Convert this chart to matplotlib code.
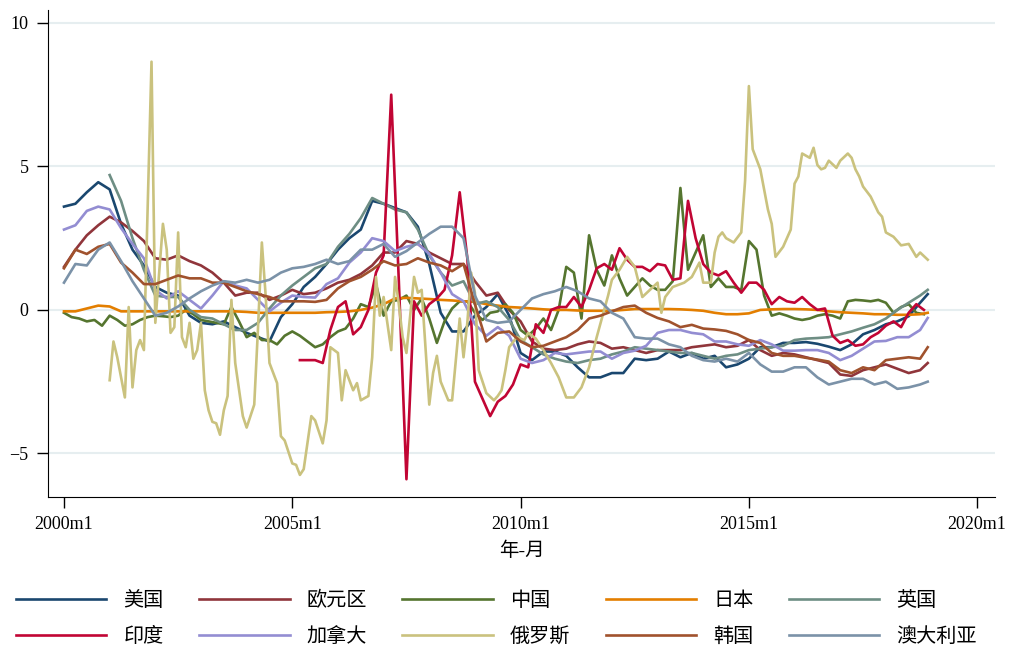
import numpy as np
import matplotlib
matplotlib.use("Agg")
import matplotlib.pyplot as plt

plt.rcParams['font.family'] = ['Liberation Serif', 'Noto Sans CJK SC']
plt.rcParams['axes.unicode_minus'] = True

# months counted from 2000m1 (=0)
names = ['美国', '欧元区', '中国', '日本', '英国', '印度', '加拿大', '俄罗斯', '韩国', '澳大利亚']
colors = ['#1a476f', '#90353b', '#55752f', '#e37e00', '#6e8e84',
          '#c10534', '#938dd2', '#cac27e', '#a0522d', '#7b92a8']

tick_pos = [0, 60, 120, 180, 240]
tick_lab = ['2000m1', '2005m1', '2010m1', '2015m1', '2020m1']

# quarterly readings 2000m1..2018m10 plus 2018m12
q_months = np.r_[np.arange(0, 226, 3), 227]
q_months_uk = np.r_[np.arange(12, 226, 3), 227]
# bi-monthly readings
b_months_cn = np.arange(0, 227, 2)
b_months_in = np.arange(62, 227, 2)

us = [3.6, 3.7, 4.1, 4.45, 4.2, 3.0, 2.1, 1.55, 0.8, 0.6,
      0.5, -0.2, -0.45, -0.5, -0.4, -0.6, -0.8, -0.95, -1.1, -0.25,
      0.2, 0.8, 1.15, 1.6, 2.1, 2.5, 2.8, 3.8, 3.7, 3.55,
      3.4, 2.9, 1.6, -0.1, -0.75, -0.75, -0.2, 0.1, 0.55, -0.2,
      -1.5, -1.75, -1.45, -1.45, -1.6, -2.0, -2.35, -2.35, -2.2, -2.2,
      -1.7, -1.75, -1.7, -1.45, -1.65, -1.5, -1.7, -1.6, -2.0, -1.9,
      -1.7, -1.3, -1.3, -1.15, -1.15, -1.12, -1.18, -1.28, -1.4, -1.2,
      -0.85, -0.7, -0.5, -0.4, -0.22, 0.25, 0.55]

euro = [1.5, 2.1, 2.6, 2.95, 3.25, 3.05, 2.75, 2.4, 1.8, 1.75,
        1.9, 1.7, 1.55, 1.3, 0.95, 0.5, 0.6, 0.6, 0.35, 0.5,
        0.7, 0.55, 0.6, 0.75, 0.95, 1.05, 1.25, 1.55, 2.0, 2.0,
        2.4, 2.3, 2.0, 1.8, 1.6, 1.6, 1.0, 0.5, 0.6, 0.0,
        -0.4, -1.1, -1.35, -1.4, -1.35, -1.2, -1.1, -1.15, -1.35, -1.3,
        -1.4, -1.5, -1.4, -1.4, -1.4, -1.3, -1.25, -1.2, -1.3, -1.25,
        -1.05, -1.4, -1.6, -1.5, -1.55, -1.65, -1.75, -1.85, -2.25, -2.3,
        -2.1, -2.0, -1.9, -2.05, -2.2, -2.1, -1.85]

china = [-0.1, -0.25, -0.3, -0.4, -0.35, -0.55, -0.2, -0.35, -0.55, -0.5,
         -0.35, -0.25, -0.2, -0.22, -0.25, -0.2, 0.0, -0.15, -0.35, -0.4,
         -0.45, -0.5, 0.1, -0.4, -0.95, -0.8, -1.05, -1.05, -1.2, -0.9,
         -0.75, -0.9, -1.1, -1.3, -1.2, -0.95, -0.75, -0.65, -0.3, 0.2,
         0.1, 0.9, -0.2, 0.3, 0.35, 0.5, 0.0, 0.4, -0.3, -1.15,
         -0.4, 0.05, 0.3, 0.3, -0.1, -0.35, -0.1, -0.05, 0.2, -0.1,
         -0.7, -0.9, -0.65, -0.3, -0.7, 0.0, 1.5, 1.3, -0.3, 2.6,
         1.4, 0.85, 1.9, 1.1, 0.5, 0.8, 1.1, 0.85, 0.7, 0.7,
         1.0, 4.25, 1.4, 2.0, 2.6, 0.8, 1.1, 0.8, 0.8, 0.7,
         2.4, 2.1, 0.5, -0.2, -0.12, -0.2, -0.3, -0.35, -0.3, -0.2,
         -0.15, -0.2, -0.3, 0.3, 0.35, 0.33, 0.3, 0.35, 0.25, -0.1,
         0.1, 0.2, -0.1, -0.15]

japan = [-0.05, -0.05, 0.05, 0.15, 0.12, -0.05, -0.05, -0.05, -0.05, -0.05,
         -0.05, -0.05, -0.05, -0.05, -0.05, -0.05, -0.07, -0.1, -0.1, -0.1,
         -0.1, -0.1, -0.1, -0.08, -0.07, -0.05, 0.0, 0.08, 0.2, 0.4,
         0.42, 0.4, 0.38, 0.35, 0.33, 0.3, 0.28, 0.2, 0.15, 0.1,
         0.08, 0.05, 0.02, 0.0, 0.0, -0.02, -0.03, -0.03, -0.03, 0.0,
         0.03, 0.03, 0.03, 0.03, 0.02, 0.0, -0.03, -0.1, -0.15, -0.15,
         -0.12, 0.0, 0.02, 0.03, 0.03, 0.02, 0.0, -0.05, -0.08, -0.1,
         -0.12, -0.15, -0.15, -0.17, -0.17, -0.15, -0.1]

uk = [4.7, 3.8, 2.5, 1.4, 0.5, 0.45, 0.45, 0.0, -0.25, -0.3,
      -0.5, -0.7, -0.7, -0.45, 0.05, 0.5, 0.85, 1.15, 1.45, 1.6,
      2.2, 2.65, 3.2, 3.9, 3.7, 3.5, 3.4, 2.8, 1.9, 1.3,
      0.85, 1.0, 0.2, 0.3, 0.1, -0.35, -1.05, -1.3, -1.55, -1.7,
      -1.8, -1.85, -1.75, -1.7, -1.55, -1.45, -1.3, -1.35, -1.4, -1.45,
      -1.5, -1.5, -1.6, -1.7, -1.6, -1.55, -1.4, -1.35, -1.3, -1.25,
      -1.05, -1.0, -0.98, -0.95, -0.85, -0.75, -0.62, -0.5, -0.3, 0.0,
      0.25, 0.5, 0.7]

india = [-1.75, -1.75, -1.75, -1.85, -0.7, 0.1, 0.3, -0.85, -0.6, 0.0,
         1.3, 1.9, 7.5, 1.0, -5.9, 0.3, -0.2, 0.2, 0.4, 0.7,
         1.9, 4.1, 1.8, -2.5, -3.1, -3.7, -3.2, -3.0, -2.6, -1.9,
         -2.0, -0.5, -0.8, 0.0, 0.1, 0.1, 0.45, 0.1, 0.7, 1.45,
         1.6, 1.4, 2.15, 1.75, 1.5, 1.5, 1.35, 1.6, 1.55, 1.05,
         1.1, 3.8, 2.5, 1.6, 1.3, 1.2, 1.35, 0.95, 0.6, 0.95,
         0.95, 0.7, 0.2, 0.45, 0.3, 0.25, 0.45, 0.2, 0.0, 0.05,
         -0.9, -1.15, -1.05, -1.25, -1.2, -0.95, -0.8, -0.55, -0.4, -0.6,
         -0.1, 0.2, 0.0]

canada = [2.8, 2.95, 3.45, 3.6, 3.5, 2.85, 2.3, 1.8, 0.7, 0.4,
          0.65, 0.35, 0.05, 0.5, 1.0, 0.85, 0.75, 0.35, -0.05, 0.25,
          0.5, 0.45, 0.43, 0.9, 1.1, 1.65, 2.0, 2.5, 2.4, 2.05,
          2.2, 2.3, 1.95, 1.3, 0.55, 0.3, -0.5, -0.9, -0.6, -0.9,
          -1.7, -1.85, -1.75, -1.5, -1.55, -1.5, -1.45, -1.45, -1.7, -1.5,
          -1.42, -1.25, -0.8, -0.7, -0.7, -0.8, -0.85, -1.1, -1.1, -1.2,
          -1.25, -1.05, -1.2, -1.42, -1.42, -1.4, -1.4, -1.5, -1.75, -1.6,
          -1.35, -1.1, -1.08, -0.95, -0.95, -0.7, -0.28]

# Russia: turning points (month, value)
russia_m = [12, 13, 14, 16, 17, 18, 19, 20, 21, 23, 24, 26, 27, 28, 29, 30, 31, 32, 33, 34,
            35, 36, 37, 38, 39, 40, 41, 42, 43, 44, 45, 47, 48, 49, 50, 51, 52, 53, 54, 56,
            57, 58, 60, 61, 62, 63, 65, 66, 68, 69, 70, 72, 73, 74, 76, 77, 78, 80, 81, 82,
            83, 84, 86, 87, 88, 89, 90, 92, 93, 94, 95, 96, 97, 98, 99, 101, 102, 104, 105, 106,
            107, 108, 109, 111, 113, 114, 115, 116, 117, 119, 121, 122, 124, 126, 128, 130, 132, 134, 136, 137,
            138, 140, 143, 144, 146, 148, 150, 152, 154, 156, 157, 158, 160, 163, 165, 167, 168, 170, 171, 172,
            173, 174, 176, 178, 179, 180, 181, 183, 185, 186, 187, 189, 191, 192, 193, 194, 196, 197, 198, 199,
            200, 201, 203, 204, 206, 207, 208, 209, 210, 212, 214, 215, 216, 218, 220, 222, 224, 225, 227]
russia = [-2.45, -1.1, -1.65, -3.05, 0.1, -2.7, -1.4, -1.05, -1.4, 8.65, -0.45, 3.0, 2.1, -0.8, -0.6, 2.7, -0.95, -1.3, -0.45, -1.7,
          -1.4, -0.45, -2.8, -3.5, -3.9, -3.95, -4.35, -3.5, -3.0, 0.35, -1.85, -3.7, -4.1, -3.7, -3.3, -0.6, 2.35, 0.5, -1.85, -2.55,
          -4.4, -4.55, -5.35, -5.4, -5.75, -5.55, -3.7, -3.85, -4.65, -3.85, -1.3, -1.5, -3.15, -2.1, -2.8, -2.55, -3.15, -3.0, -1.65, 1.15,
          -0.2, 0.45, -1.4, 1.15, 0.2, -0.95, -1.5, 1.15, 0.6, 0.7, -1.3, -3.3, -2.2, -1.6, -2.5, -3.15, -3.15, -0.3, -1.65, -0.45,
          1.3, 0.6, -2.1, -2.9, -3.15, -3.0, -2.8, -2.1, -1.3, -0.95, -1.05, -0.8, -1.0, -1.4, -1.85, -2.35, -3.05, -3.05, -2.7, -2.35,
          -2.0, -0.95, 0.5, 1.05, 1.4, 1.85, 1.5, 0.45, 0.7, 0.95, -0.1, 0.45, 0.8, 0.95, 1.15, 1.65, 0.95, 0.95, 2.0, 2.55,
          2.7, 2.5, 2.35, 2.7, 4.5, 7.8, 5.6, 4.9, 3.5, 3.0, 1.85, 2.2, 2.8, 4.4, 4.65, 5.45, 5.3, 5.65, 5.05, 4.9,
          4.95, 5.2, 4.95, 5.2, 5.45, 5.3, 4.9, 4.65, 4.3, 3.95, 3.4, 3.25, 2.7, 2.55, 2.25, 2.3, 1.85, 2.0, 1.75]

korea = [1.45, 2.1, 1.95, 2.2, 2.3, 1.65, 1.3, 0.9, 0.9, 1.05,
         1.2, 1.1, 1.1, 0.95, 0.95, 0.8, 0.65, 0.55, 0.45, 0.3,
         0.3, 0.3, 0.28, 0.35, 0.75, 1.0, 1.15, 1.4, 1.7, 1.55,
         1.6, 1.8, 1.65, 1.55, 1.35, 1.6, 0.2, -1.1, -0.8, -0.75,
         -1.1, -1.3, -1.25, -1.1, -0.95, -0.7, -0.3, -0.2, -0.05, 0.1,
         0.15, -0.1, -0.28, -0.4, -0.6, -0.52, -0.65, -0.68, -0.73, -0.85,
         -1.05, -1.15, -1.5, -1.6, -1.6, -1.67, -1.73, -1.8, -2.1, -2.2,
         -2.0, -2.1, -1.75, -1.7, -1.65, -1.7, -1.3]

australia = [0.95, 1.6, 1.55, 2.1, 2.35, 1.7, 1.0, 0.4, -0.2, -0.1,
             0.12, 0.4, 0.65, 0.85, 1.0, 0.95, 1.05, 0.95, 1.05, 1.3,
             1.45, 1.5, 1.6, 1.75, 1.6, 1.7, 2.1, 2.1, 2.3, 1.85,
             2.05, 2.35, 2.65, 2.9, 2.9, 2.5, 0.5, -0.35, -0.45, -0.4,
             0.0, 0.4, 0.55, 0.65, 0.8, 0.65, 0.4, 0.3, -0.1, -0.3,
             -0.95, -1.0, -1.0, -1.2, -1.3, -1.6, -1.75, -1.8, -1.7, -1.8,
             -1.5, -1.9, -2.15, -2.15, -2.0, -2.0, -2.35, -2.6, -2.5, -2.4,
             -2.4, -2.6, -2.5, -2.75, -2.7, -2.6, -2.5]

series = [(q_months, us), (q_months, euro), (b_months_cn, china), (q_months, japan),
          (q_months_uk, uk), (b_months_in, india), (q_months, canada),
          (russia_m, russia), (q_months, korea), (q_months, australia)]

fig = plt.figure(figsize=(10.13, 6.52), dpi=100)
ax = fig.add_axes([0.0474, 0.2377, 0.9349, 0.7469])

handles = []
for (x, y), name, c in zip(series, names, colors):
    h, = ax.plot(x, y, color=c, lw=1.9, label=name)
    handles.append(h)

ax.set_xlim(-4.2, 244.7)
ax.set_ylim(-6.52, 10.45)
ax.set_yticks([-5, 0, 5, 10])
ax.set_xticks(tick_pos)
ax.set_xticklabels(tick_lab)
ax.yaxis.grid(True, color='#e6eef0', lw=1.5)
ax.set_axisbelow(True)
for s in ['top', 'right']:
    ax.spines[s].set_visible(False)
ax.tick_params(direction='out', length=8, width=1, labelsize=13, pad=6)
ax.set_xlabel('年-月', fontsize=14, labelpad=6)

# legend filled row by row (matplotlib fills columns first)
order = [0, 5, 1, 6, 2, 7, 3, 8, 4, 9]
fig.legend([handles[i] for i in order], [names[i] for i in order],
           loc='lower center', bbox_to_anchor=(0.49, -0.02), ncol=5, frameon=False,
           fontsize=14.5, handlelength=4.5, handletextpad=0.85, columnspacing=1.75,
           labelspacing=0.85)

fig.savefig('out.png', dpi=100)
